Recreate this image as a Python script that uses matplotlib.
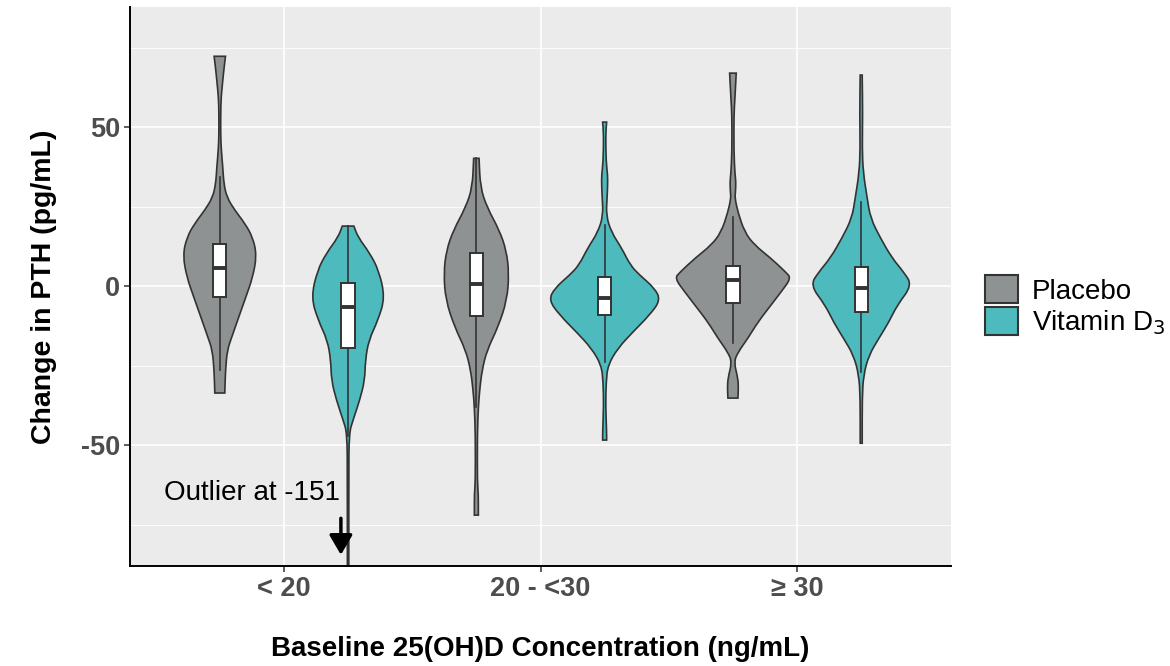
import matplotlib
matplotlib.use("Agg")
import matplotlib.pyplot as plt
from matplotlib.patches import Patch, PathPatch
from matplotlib.path import Path

plt.rcParams['font.family'] = ['Liberation Sans', 'DejaVu Sans']
plt.rcParams['axes.unicode_minus'] = False

# categories / groups
groups = ["< 20", "20 - <30", "\u2265 30"]
arms = ["Placebo", "Vitamin D$_3$"]
colors = ["#8E9292", "#4DBABD"]

# violin outlines: y value and half width (in pixels of the original)
plac_lt20_y = [72.3, 67.9, 61.6, 57.5, 48.1, 42.8, 37.4, 32.4, 28.0, 23.9, 19.8, 15.4, 9.7, 2.8, -3.5, -9.7, -16.0, -20.1, -26.4, -33.6]
plac_lt20_w = [5.7, 4, 2, 1, 0.8, 1.5, 3, 4, 7, 15, 25, 33, 37, 33, 26, 19, 12, 7.5, 5.7, 5]
vitd_lt20_y = [18.9, 15.4, 10.4, 5.0, -3.5, -10.7, -17.0, -23.3, -29.6, -35.8, -42.1, -46.2, -60.0, -151.0]
vitd_lt20_w = [5.8, 10, 21.7, 30.7, 37, 30, 20.7, 17.3, 16.7, 11.7, 5, 1, 0.7, 0.7]
plac_mid_y = [40.2, 31.1, 24.8, 17.6, 11.3, 4.1, -4.4, -12.9, -20.1, -26.4, -32.7, -38.0, -46.2, -62.0, -65.0, -72.0]
plac_mid_w = [2.7, 4, 10.7, 23, 30, 32.7, 30.7, 21.7, 10.7, 5.7, 3.3, 2, 1, 1, 2, 2]
vitd_mid_y = [51.6, 47.5, 39.0, 35.0, 31.8, 28.0, 22.3, 17.0, 12.0, 6.6, 3.5, -0.6, -4.4, -9.1, -14.5, -19.5, -24.8, -30.2, -37.4, -45.9, -48.4]
vitd_mid_w = [2, 1, 1.5, 3, 3, 2.5, 1.5, 6.7, 17, 25.7, 35, 50, 56, 45, 28, 13.3, 3.3, 1.5, 1, 2, 2]
plac_ge30_y = [67.0, 59.1, 53.8, 42.1, 35.5, 32.7, 29.5, 27.7, 23.3, 17.0, 12.9, 8.8, 4.4, 2.5, -1.9, -6.0, -11.3, -16.4, -20.8, -23.9, -28.9, -32.0, -35.2]
plac_ge30_w = [3.3, 2, 1, 1, 2, 3, 2.5, 2, 5, 11.7, 21.7, 38, 53, 58.3, 48, 38, 25, 15, 5, 1, 5, 5.5, 5]
vitd_ge30_y = [66.4, 53.8, 43.4, 35.8, 27.7, 21.4, 15.1, 8.8, 4.4, 0.3, -6.0, -11.3, -16.4, -21.7, -28.0, -35.2, -49.4]
vitd_ge30_w = [1, 1.5, 1, 2, 6, 9.3, 19.3, 31, 42.7, 51, 36, 27.7, 17.7, 7.7, 2.3, 1, 1]

# boxplot stats per group
plac_q1 = [-3.5, -9.4, -5.3]
plac_med = [5.7, 0.6, 1.9]
plac_q3 = [13.2, 10.4, 6.3]
plac_lo = [-26.4, -38.0, -17.9]
plac_hi = [34.3, 40.2, 21.7]
vitd_q1 = [-19.5, -9.1, -8.2]
vitd_med = [-6.6, -3.8, -0.6]
vitd_q3 = [0.9, 2.8, 6.0]
vitd_lo = [-47.0, -23.9, -27.0]
vitd_hi = [18.9, 19.2, 26.4]

outlines = [
    [(plac_lt20_y, plac_lt20_w), (vitd_lt20_y, vitd_lt20_w)],
    [(plac_mid_y, plac_mid_w), (vitd_mid_y, vitd_mid_w)],
    [(plac_ge30_y, plac_ge30_w), (vitd_ge30_y, vitd_ge30_w)],
]
boxes = [
    (plac_q1, plac_med, plac_q3, plac_lo, plac_hi),
    (vitd_q1, vitd_med, vitd_q3, vitd_lo, vitd_hi),
]

px = 1 / 257.0  # one pixel of the original in x data units
dodge = 0.25
box_half = 6.7 * px
edge = "#333333"


# one side of the violin as a quadratic bezier through the read points
def side(pts, first):
    verts = [pts[0]]
    codes = [Path.MOVETO if first else Path.LINETO]
    for k in range(len(pts) - 1):
        mid = ((pts[k][0] + pts[k + 1][0]) / 2, (pts[k][1] + pts[k + 1][1]) / 2)
        if k == 0:
            verts.append(mid)
            codes.append(Path.LINETO)
        else:
            verts += [pts[k], mid]
            codes += [Path.CURVE3, Path.CURVE3]
    verts.append(pts[-1])
    codes.append(Path.LINETO)
    return verts, codes


fig = plt.figure(figsize=(11.7, 6.66), dpi=100)
ax = fig.add_axes([130 / 1170, 1 - 566 / 666, 821 / 1170, 559 / 666])
ax.set_facecolor("#EBEBEB")

for i in range(len(groups)):
    for j in range(2):
        xc = i + 1 + (j - 0.5) * 2 * dodge
        ys, ws = outlines[i][j]
        right = [(xc + w * px, y) for y, w in zip(ys, ws)]
        left = [(xc - w * px, y) for y, w in zip(ys, ws)][::-1]
        v1, c1 = side(right, True)
        v2, c2 = side(left, False)
        verts = v1 + v2 + [right[0]]
        codes = c1 + c2 + [Path.CLOSEPOLY]
        ax.add_patch(PathPatch(Path(verts, codes), facecolor=colors[j], edgecolor=edge,
                               linewidth=1.2, zorder=2))
        q1, med, q3, lo, hi = [s[i] for s in boxes[j]]
        ax.plot([xc, xc], [lo, q1], color=edge, lw=1.2, zorder=3)
        ax.plot([xc, xc], [q3, hi], color=edge, lw=1.2, zorder=3)
        ax.add_patch(plt.Rectangle((xc - box_half, q1), 2 * box_half, q3 - q1,
                                   facecolor="white", edgecolor=edge, lw=1.4, zorder=4))
        ax.plot([xc - box_half, xc + box_half], [med, med], color=edge, lw=2.8, zorder=5,
                solid_capstyle="butt")

ax.set_xlim(0.4, 3.6)
ax.set_ylim(-88, 87.8)
ax.set_xticks([1, 2, 3])
ax.set_xticklabels(groups)
ax.set_yticks([-50, 0, 50])
ax.set_yticks([-75, -25, 25, 75], minor=True)
ax.grid(True, which="major", color="white", lw=1.2, zorder=0)
ax.grid(True, which="minor", axis="y", color="white", lw=0.6, zorder=0)
ax.set_axisbelow(True)
for s in ["top", "right"]:
    ax.spines[s].set_visible(False)
for s in ["left", "bottom"]:
    ax.spines[s].set_color("black")
    ax.spines[s].set_linewidth(1.4)
ax.tick_params(which="major", length=4, width=1.1, color="#333333", labelcolor="#4D4D4D",
               labelsize=19.5, pad=3)
ax.tick_params(which="minor", length=0)
for lab in ax.get_xticklabels() + ax.get_yticklabels():
    lab.set_fontweight("bold")

ax.set_xlabel("Baseline 25(OH)D Concentration (ng/mL)", fontsize=20, fontweight="bold", labelpad=25)
ax.set_ylabel("Change in PTH (pg/mL)", fontsize=20.5, fontweight="bold", labelpad=17)

ax.text(0.877, -65.1, "Outlier at -151", fontsize=20, ha="center", va="center", zorder=6)
ax.annotate("", xy=(1.222, -84.5), xytext=(1.222, -73),
            arrowprops=dict(arrowstyle="-|>,head_width=0.35,head_length=0.6", mutation_scale=20,
                            color="black", lw=2.5, shrinkA=0, shrinkB=0),
            zorder=6)

handles = [Patch(facecolor=c, edgecolor=edge, lw=1.5) for c in colors]
fig.legend(handles, arms, loc="center left", bbox_to_anchor=(985 / 1170, 1 - 306 / 666),
           frameon=False, fontsize=20, handlelength=1.18, handleheight=1.18,
           labelspacing=0.07, borderpad=0, borderaxespad=0, handletextpad=0.5)

fig.savefig("out.png", dpi=100)
